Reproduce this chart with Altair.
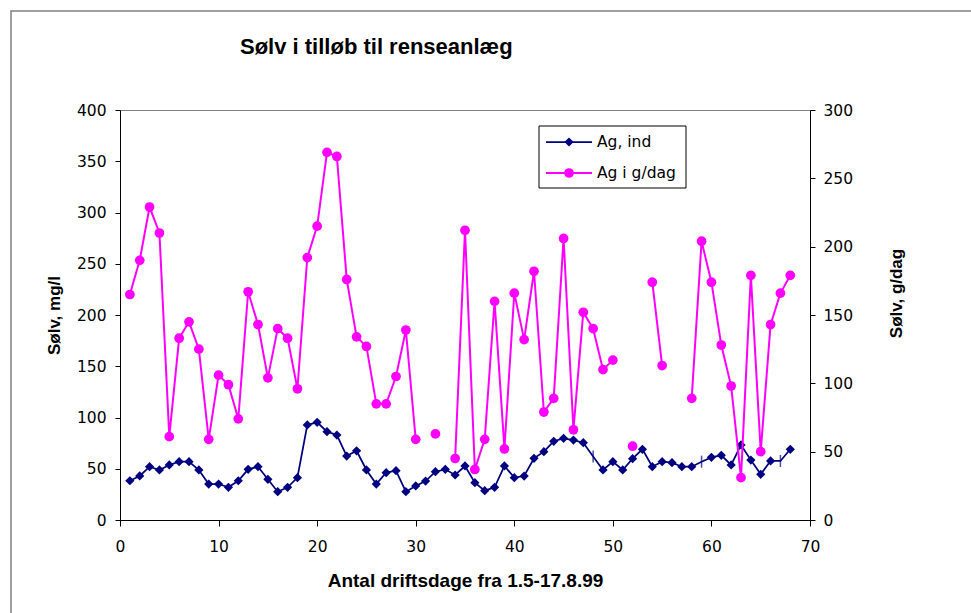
import altair as alt
import pandas as pd

# Operating day since 1 May 1999
days = list(range(1, 69))

# Silver concentration in the inlet, mg/l (left axis)
ag_ind = [38.3, 43.0, 52.0, 48.8, 53.7, 56.9, 56.9, 48.8, 35.1, 35.1,
          31.9, 38.3, 49.4, 52.0, 39.7, 27.6, 31.9, 41.3, 92.7, 95.3,
          86.2, 82.9, 62.4, 67.5, 48.8, 35.1, 46.2, 48.1, 27.6, 33.2,
          38.0, 47.1, 49.4, 43.9, 52.7, 36.4, 28.6, 31.9, 52.7, 41.3,
          42.9, 60.2, 66.7, 76.8, 79.7, 78.0, 75.4, 62.0, 48.8, 56.9,
          48.8, 59.8, 69.0, 52.0, 56.9, 55.9, 52.0, 52.0, 56.9, 61.1,
          63.1, 53.7, 73.2, 58.5, 44.6, 57.6, 57.6, 69.0]

# Silver load in g/day (right axis); None = no measurement that day
ag_g_dag = [165, 190, 229, 210, 61, 133, 145, 125, 59, 106,
            99, 74, 167, 143, 104, 140, 133, 96, 192, 215,
            269, 266, 176, 134, 127, 85, 85, 105, 139, 59,
            None, 63, None, 45, 212, 37, 59, 160, 52, 166,
            132, 182, 79, 89, 206, 66, 152, 140, 110, 117,
            None, 54, None, 174, 113, None, None, 89, 204, 174,
            128, 98, 31, 179, 50, 143, 166, 179]

# Days where the concentration series is plotted without a diamond marker
plain_marker_days = [48, 59, 67]

series_names = ["Ag, ind", "Ag i g/dag"]
chart_title = "Sølv i tilløb til renseanlæg"

df = pd.DataFrame({"dag": days, "ag_ind": ag_ind, "ag_g_dag": ag_g_dag})
df["plain"] = df["dag"].isin(plain_marker_days)

NAVY = "#000080"
MAGENTA = "#FF00FF"
LABEL_FONT = "DejaVu Sans"
BOLD_FONT = "Liberation Sans"

x_enc = alt.X(
    "dag:Q",
    scale=alt.Scale(domain=[0, 70], nice=False),
    axis=alt.Axis(
        values=list(range(0, 71, 10)),
        title="Antal driftsdage fra 1.5-17.8.99",
        titleFontSize=19,
        tickSize=6,
        labelPadding=13,
        labelFlush=False,
        titlePadding=17,
    ),
)

left_axis = alt.Axis(
    values=list(range(0, 401, 50)),
    orient="left",
    title="Sølv, mg/l",
    tickSize=5,
    labelPadding=9,
    titlePadding=13,
)
right_axis = alt.Axis(
    values=list(range(0, 301, 50)),
    orient="right",
    title="Sølv, g/dag",
    tickSize=5,
    labelPadding=8,
    titlePadding=36,
    titleAngle=270,
    titleBaseline="top",
    titleY=183,
)

y_left = alt.Y("ag_ind:Q", scale=alt.Scale(domain=[0, 400], nice=False), axis=left_axis)
y_right = alt.Y("ag_g_dag:Q", scale=alt.Scale(domain=[0, 300], nice=False), axis=right_axis)

base = alt.Chart(df)

conc_line = base.mark_line(color=NAVY, strokeWidth=1.75).encode(x=x_enc, y=y_left)
conc_diamonds = base.transform_filter("!datum.plain").mark_point(
    shape="diamond", filled=True, size=85, color=NAVY, opacity=1
).encode(x=x_enc, y=y_left)
conc_plain = base.transform_filter("datum.plain").mark_tick(
    orient="vertical", size=12, thickness=1.5, color=NAVY
).encode(x=x_enc, y=y_left)
conc = alt.layer(conc_line, conc_diamonds, conc_plain)

load_line = base.mark_line(
    color=MAGENTA, strokeWidth=2, invalid="break-paths-show-domains"
).encode(x=x_enc, y=y_right)
load_dots = base.mark_circle(size=95, color=MAGENTA, opacity=1).encode(x=x_enc, y=y_right)
load = alt.layer(load_line, load_dots)

one = alt.Chart(pd.DataFrame({"k": [0]}))

# Chart title above the plot
title_text = one.mark_text(
    align="left", baseline="middle", font=BOLD_FONT, fontSize=22, fontWeight="bold", color="black"
).encode(x=alt.value(120), y=alt.value(-63), text=alt.value(chart_title))

# Hand-drawn legend box in the upper part of the plot
legend_box = one.mark_rect(fillOpacity=0, stroke="black", strokeWidth=1).encode(
    x=alt.value(419), x2=alt.value(566), y=alt.value(16), y2=alt.value(78)
)
leg1_line = one.mark_rule(color=NAVY, strokeWidth=1.75).encode(
    x=alt.value(426), x2=alt.value(472), y=alt.value(32)
)
leg1_mark = one.mark_point(shape="diamond", filled=True, size=85, color=NAVY, opacity=1).encode(
    x=alt.value(449), y=alt.value(32)
)
leg1_text = one.mark_text(align="left", baseline="middle", font=LABEL_FONT, fontSize=15.5).encode(
    x=alt.value(477), y=alt.value(32), text=alt.value(series_names[0])
)
leg2_line = one.mark_rule(color=MAGENTA, strokeWidth=2).encode(
    x=alt.value(426), x2=alt.value(472), y=alt.value(63)
)
leg2_mark = one.mark_circle(size=95, color=MAGENTA, opacity=1).encode(
    x=alt.value(449), y=alt.value(63)
)
leg2_text = one.mark_text(align="left", baseline="middle", font=LABEL_FONT, fontSize=15.5).encode(
    x=alt.value(477), y=alt.value(63), text=alt.value(series_names[1])
)

# Outer chart-area border
frame = one.mark_rect(fillOpacity=0, stroke="#808080", strokeWidth=1.5).encode(
    x=alt.value(-109), x2=alt.value(900), y=alt.value(-99), y2=alt.value(600)
)

chart = (
    alt.layer(
        frame, title_text, conc, load,
        legend_box, leg1_line, leg1_mark, leg1_text, leg2_line, leg2_mark, leg2_text,
    )
    .resolve_scale(y="independent")
    .properties(
        width=690,
        height=410,
        padding={"left": 120, "top": 110, "right": 161, "bottom": 93},
        autosize=alt.AutoSizeParams(type="none"),
    )
    .configure(background="white")
    .configure_view(stroke="#808080", strokeWidth=1)
    .configure_axis(
        grid=False,
        domainColor="black",
        tickColor="black",
        labelColor="black",
        titleColor="black",
        labelFont=LABEL_FONT,
        labelFontSize=15.5,
        titleFont=BOLD_FONT,
        titleFontSize=17,
        titleFontWeight="bold",
    )
)

chart.save("out.html", embed_options={"renderer": "svg", "actions": False})
